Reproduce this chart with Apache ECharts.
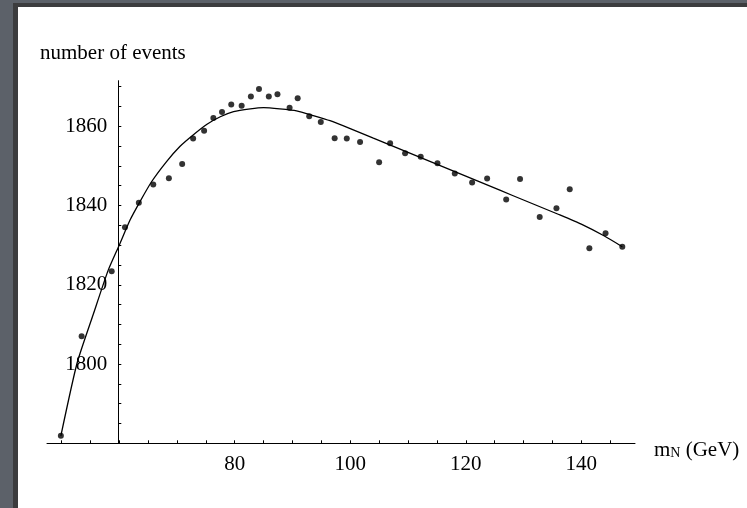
<!DOCTYPE html>
<html>
<head>
<meta charset="utf-8">
<script src="https://cdn.jsdelivr.net/npm/echarts@6/dist/echarts.min.js"></script>
<style>
  html, body { margin: 0; padding: 0; }
  body { width: 747px; height: 508px; background: #5c6169; position: relative; overflow: hidden; }
  #panel { position: absolute; left: 13px; top: 3px; right: 0; bottom: 0; background: #fff;
           border-left: 5px solid #3c3c3e; border-top: 4px solid #3c3c3e; }
  #chart { position: absolute; left: 0; top: 0; width: 747px; height: 508px; }
</style>
</head>
<body>
<div id="panel"></div>
<div id="chart"></div>
<script>
const massGeV = [49.9, 53.5, 58.7, 61.0, 63.4, 65.9, 68.6, 70.9, 72.8, 74.7, 76.3, 77.8, 79.4,
  81.2, 82.8, 84.2, 85.9, 87.4, 89.5, 90.9, 92.9, 94.9, 97.3, 99.4, 101.7, 105.0, 106.9, 109.5,
  112.2, 115.1, 118.1, 121.1, 123.7, 127.0, 129.4, 132.8, 135.7, 138.0, 141.4, 144.2, 147.1];
const events = [1781.9, 1807.0, 1823.4, 1834.5, 1840.7, 1845.3, 1846.9, 1850.5, 1856.9, 1858.9,
  1862.1, 1863.6, 1865.5, 1865.2, 1867.5, 1869.4, 1867.5, 1868.1, 1864.7, 1867.1, 1862.5, 1861.1,
  1857.0, 1856.9, 1856.0, 1850.9, 1855.7, 1853.2, 1852.3, 1850.7, 1848.1, 1845.8, 1846.8, 1841.5,
  1846.7, 1837.1, 1839.3, 1844.1, 1829.2, 1833.0, 1829.6];

// fitted curve
const fitMass = [49.9, 52.7, 55.5, 58.1, 60.0, 61.9, 63.6, 65.6, 68.2, 70.5, 72.8, 75.2, 77.5,
  79.8, 82.7, 85.0, 87.8, 90.7, 93.6, 96.5, 100, 104, 108, 112, 116, 120, 124, 128, 132, 136,
  140, 144, 147.1];
const fitEvents = [1781.9, 1800.2, 1812.5, 1823.7, 1830.0, 1836.4, 1841.0, 1846.0, 1851.1, 1854.9,
  1857.8, 1860.5, 1862.4, 1863.7, 1864.4, 1864.7, 1864.4, 1863.9, 1862.7, 1861.4, 1859.4, 1857.0,
  1854.6, 1852.2, 1849.8, 1847.4, 1845.0, 1842.6, 1840.2, 1837.8, 1835.3, 1832.3, 1829.6];

const xTicks = [50, 55, 60, 65, 70, 75, 80, 85, 90, 95, 100, 105, 110, 115, 120, 125, 130, 135, 140, 145];
const xLabels = [80, 100, 120, 140];
const yTicks = [1785, 1790, 1795, 1800, 1805, 1810, 1815, 1820, 1825, 1830, 1835, 1840, 1845,
  1850, 1855, 1860, 1865, 1870];
const yLabels = [1800, 1820, 1840, 1860];

const serif = "Liberation Serif";
const ink = "#000";
const plain = (v) => String(v);

const chart = echarts.init(document.getElementById("chart"), null, { renderer: "canvas" });

chart.setOption({
  backgroundColor: "transparent",
  animation: false,
  title: {
    text: "number of events",
    left: 40, top: 43, padding: 0,
    textStyle: { fontFamily: serif, fontWeight: "normal", fontSize: 21, color: ink }
  },
  grid: [
    { left: 47, top: 80.7, width: 588, height: 362.6 },
    // narrow grid only to place the vertical axis at m = 60
    { left: 118.3, top: 80.7, width: 1, height: 362.6 }
  ],
  xAxis: [
    {
      type: "value", gridIndex: 0, min: 47.5, max: 149.3,
      axisLine: { lineStyle: { color: ink, width: 1 } },
      axisTick: { inside: true, length: 3, customValues: xTicks, lineStyle: { color: ink } },
      axisLabel: { customValues: xLabels, formatter: plain, margin: 11, fontFamily: serif, fontSize: 21, color: ink },
      splitLine: { show: false },
      name: "{m|m}{s|N}{m| (GeV)}",
      nameLocation: "end", nameGap: 19,
      nameTextStyle: {
        padding: [14, 0, 0, 0],
        rich: {
          m: { fontFamily: serif, fontSize: 21, color: ink },
          s: { fontFamily: serif, fontSize: 14, color: ink, verticalAlign: "bottom", padding: [6, 0, 0, 0] }
        }
      }
    },
    { type: "value", gridIndex: 1, min: 0, max: 1, show: false }
  ],
  yAxis: [
    { type: "value", gridIndex: 0, min: 1780, max: 1871.5, show: false },
    {
      type: "value", gridIndex: 1, min: 1780, max: 1871.5,
      axisLine: { show: true, lineStyle: { color: ink, width: 1 } },
      axisTick: { show: true, inside: true, length: 3, customValues: yTicks, lineStyle: { color: ink } },
      axisLabel: { customValues: yLabels, formatter: plain, margin: 11, fontFamily: serif, fontSize: 21, color: ink },
      splitLine: { show: false }
    }
  ],
  series: [
    {
      type: "line",
      xAxisIndex: 0, yAxisIndex: 0,
      data: fitMass.map((m, i) => [m, fitEvents[i]]),
      smooth: 0.2,
      showSymbol: false,
      lineStyle: { color: ink, width: 1.3 },
      z: 2
    },
    {
      type: "scatter",
      xAxisIndex: 0, yAxisIndex: 0,
      data: massGeV.map((m, i) => [m, events[i]]),
      symbol: "circle",
      symbolSize: 6,
      itemStyle: { color: ink },
      z: 3
    }
  ]
});
</script>
</body>
</html>
